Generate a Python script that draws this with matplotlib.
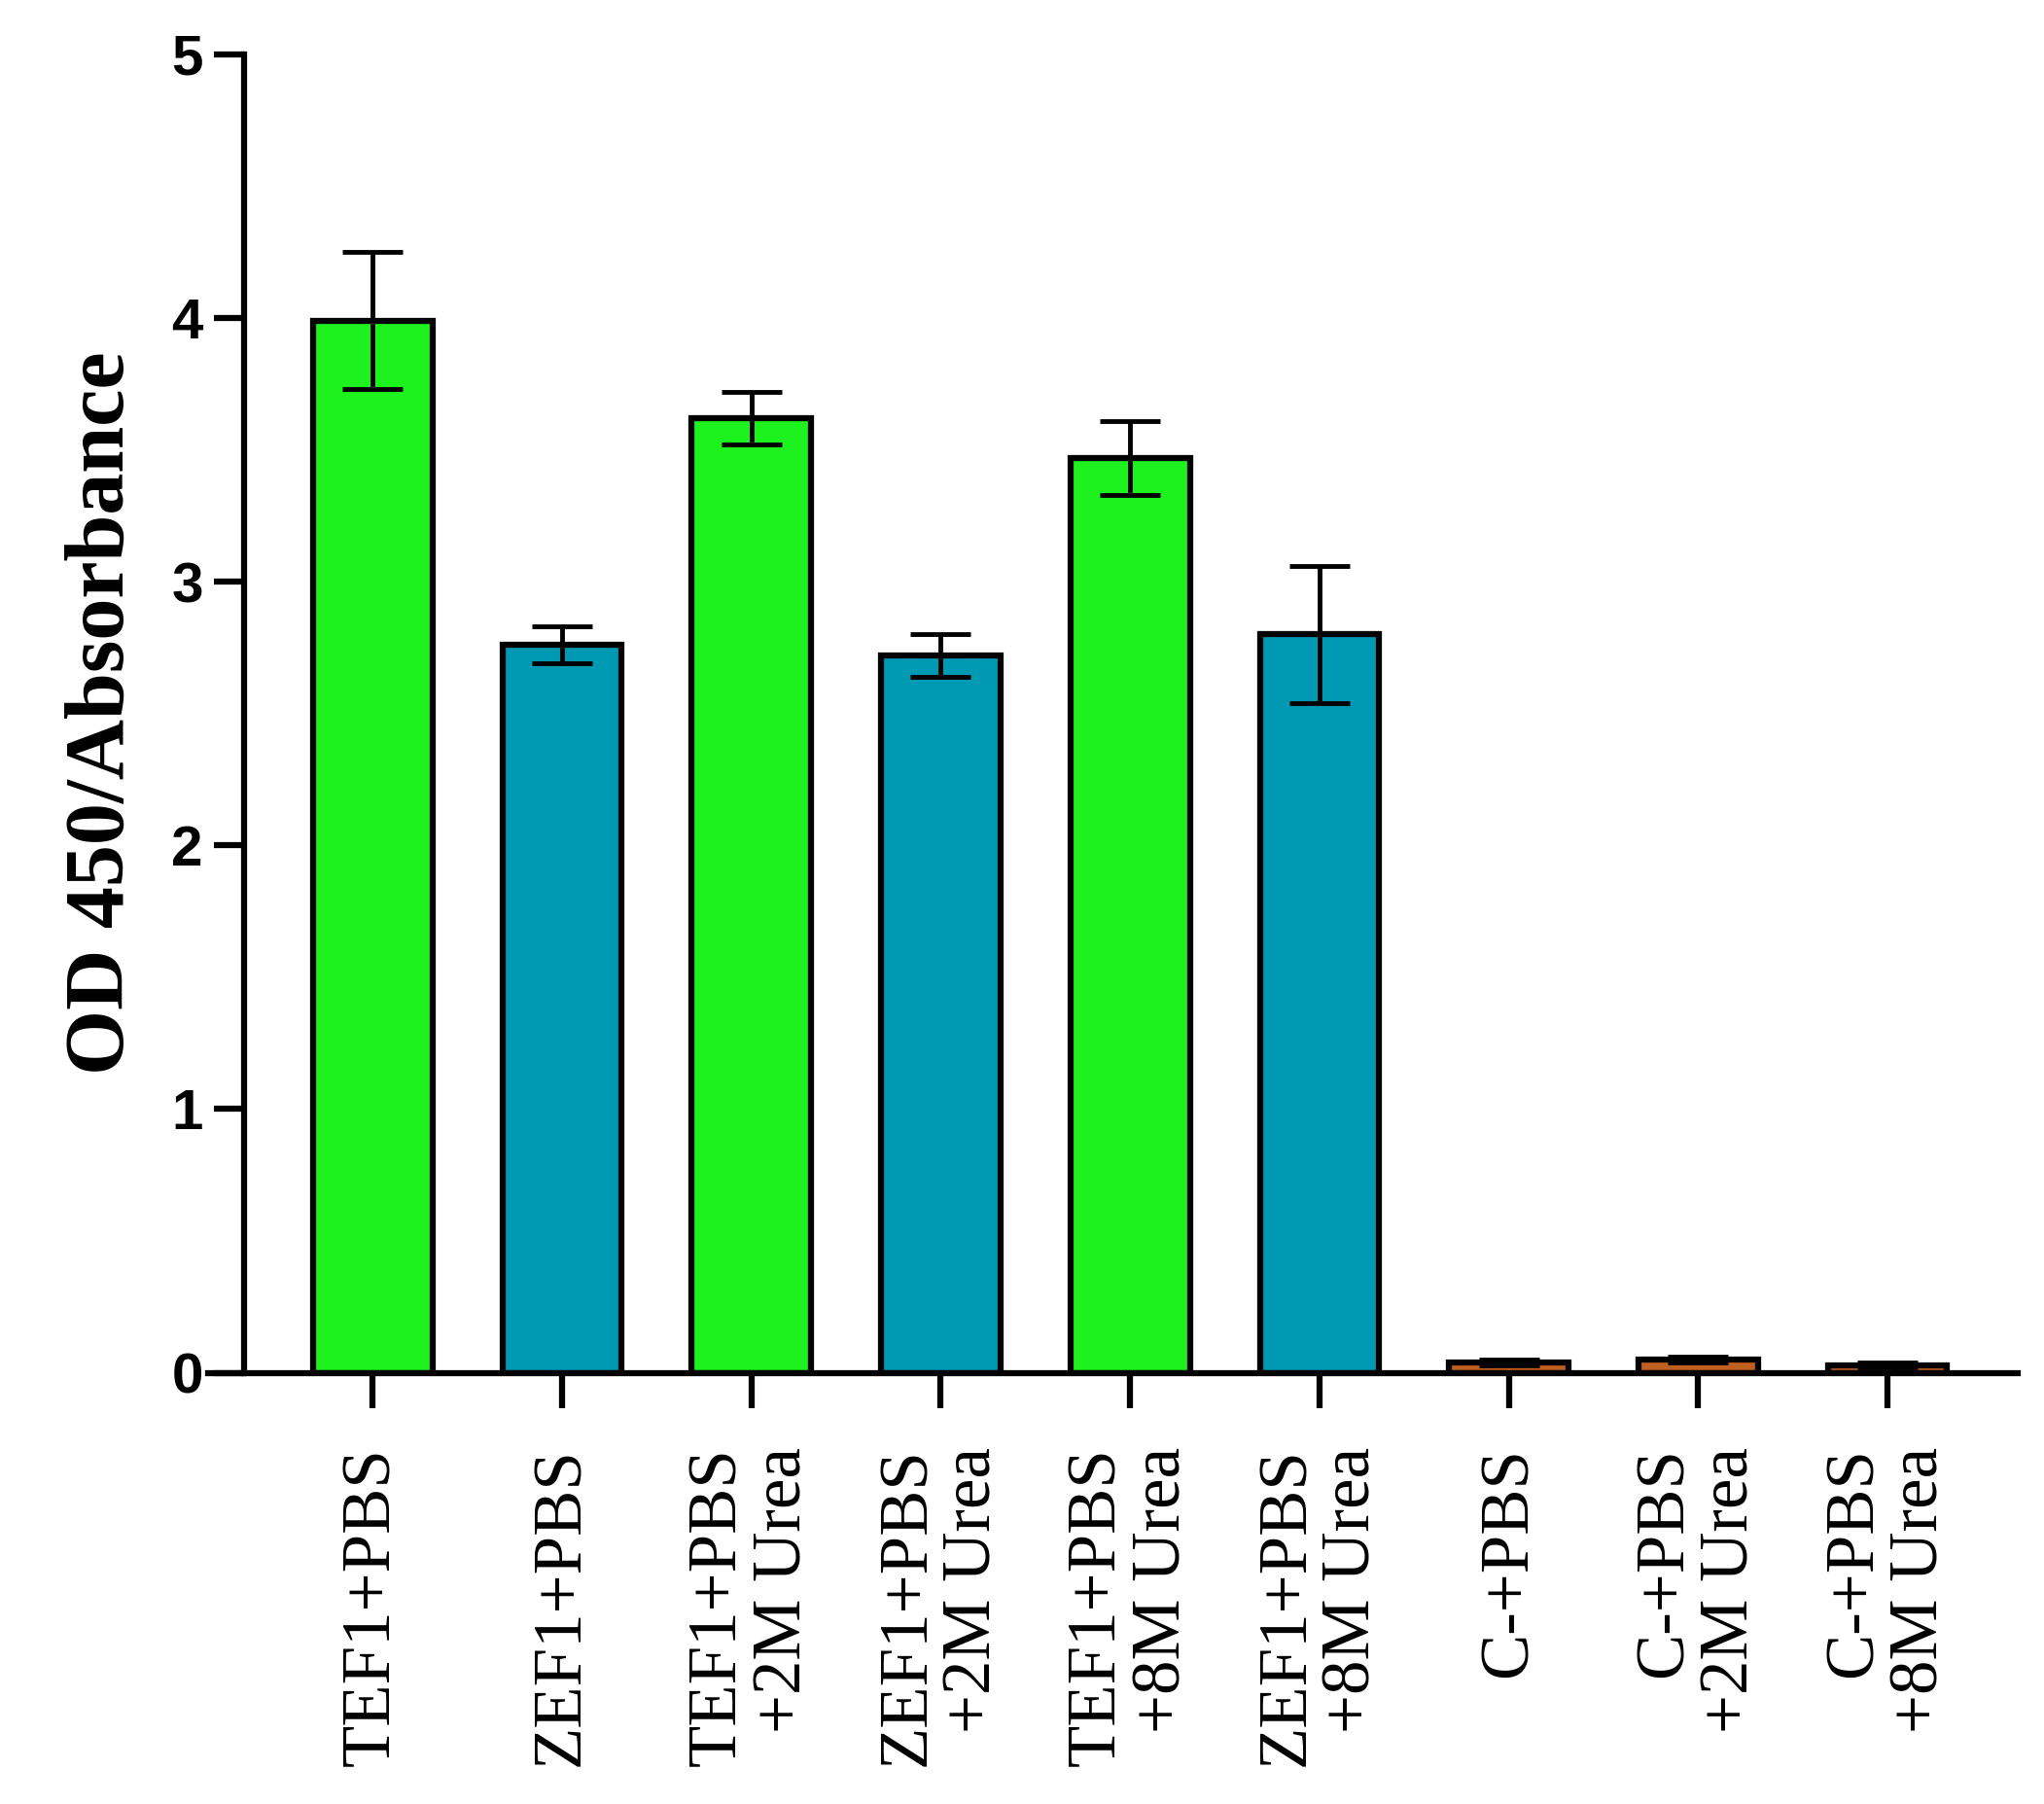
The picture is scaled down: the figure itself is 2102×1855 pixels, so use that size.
import numpy as np
import matplotlib.pyplot as plt

labels = ['TEF1+PBS', 'ZEF1+PBS', 'TEF1+PBS\n+2M Urea', 'ZEF1+PBS\n+2M Urea',
          'TEF1+PBS\n+8M Urea', 'ZEF1+PBS\n+8M Urea', 'C-+PBS', 'C-+PBS\n+2M Urea',
          'C-+PBS\n+8M Urea']
values = [3.99, 2.76, 3.62, 2.72, 3.47, 2.80, 0.04, 0.05, 0.03]
errors = [0.26, 0.07, 0.10, 0.08, 0.14, 0.26, 0.01, 0.01, 0.01]
colors = ['#1ef21e', '#0099b4', '#1ef21e', '#0099b4', '#1ef21e', '#0099b4',
          '#c06020', '#c06020', '#c06020']

fig = plt.figure(figsize=(21.02, 18.55), dpi=100)
ax = fig.add_axes([0.102, 0.239, 0.885, 0.731])
x = np.arange(len(values))
ax.bar(x, values, width=0.63, color=colors, edgecolor='black', linewidth=4.5, zorder=2)
ax.errorbar(x, values, yerr=errors, fmt='none', ecolor='black', elinewidth=3.5,
            capsize=22, capthick=3.5, zorder=3)

ax.set_xlim(-0.867, 8.686)
ax.set_ylim(0, 5)
ax.spines['top'].set_visible(False)
ax.spines['right'].set_visible(False)
ax.spines['left'].set_position(('data', -0.681))
ax.spines['left'].set_linewidth(4.5)
ax.spines['bottom'].set_linewidth(4.5)

ax.set_yticks(range(6))
ax.set_yticklabels([str(i) for i in range(6)], fontsize=42, fontweight='bold',
                   family='Liberation Sans')
ax.tick_params(axis='y', length=22, width=4.5, pad=8)
ax.set_xticks(x)
ax.set_xticklabels([])
ax.tick_params(axis='x', length=26, width=4.5)
for xi, lab in zip(x, labels):
    ax.annotate(lab, (xi, 0), xytext=(0, -55), textcoords='offset points',
                rotation=90, ha='center', va='top', multialignment='right',
                fontsize=51, family='Liberation Serif', linespacing=1.05)

ax.set_ylabel('OD 450/Absorbance', fontsize=62, fontweight='bold',
              family='Liberation Serif', labelpad=22)

fig.savefig('out.png', dpi=100)
